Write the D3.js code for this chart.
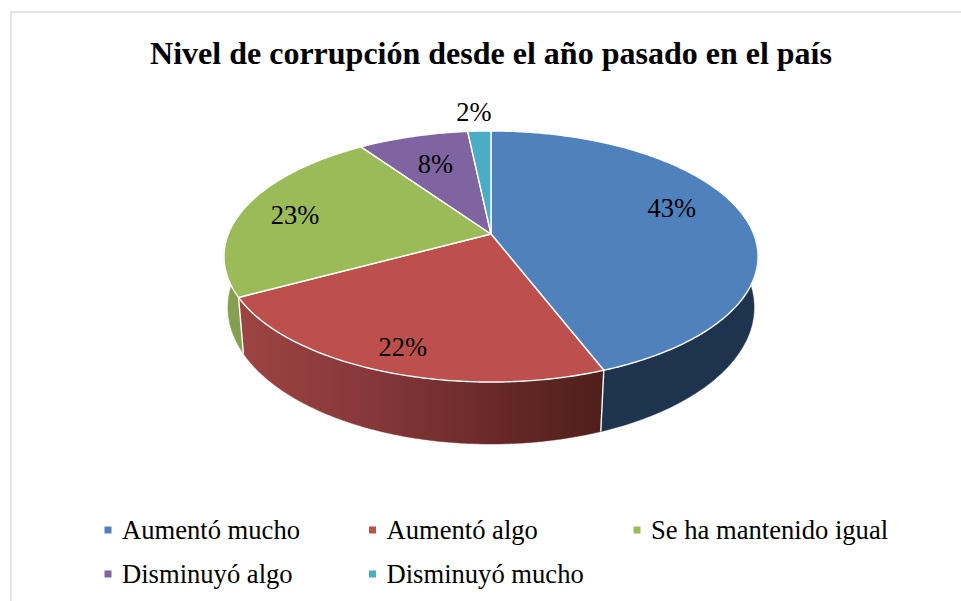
<!DOCTYPE html>
<html><head><meta charset="utf-8">
<script src="https://cdn.jsdelivr.net/npm/d3@7"></script>
<style>html,body{margin:0;padding:0;background:#fff;overflow:hidden}svg{display:block}text{font-family:"Liberation Serif",serif;fill:#000}</style>
</head><body>
<script>
const chartTitle = "Nivel de corrupción desde el año pasado en el país";
const categories = ["Aumentó mucho","Aumentó algo","Se ha mantenido igual","Disminuyó algo","Disminuyó mucho"];
const shares = [43.4,22.49,22.9,7.8,1.64];
const shareLabels = ["43%","22%","23%","8%","2%"];
const sliceColors = ["#4f81bd","#bd4f4c","#9bbb59","#8064a2","#4bacc6"];
const sideColors = ["#1e344e","url(#redSide)","#84a04e","#6d5589","#3f92a8"];

const W=961,H=601;
const svg=d3.select("body").append("svg").attr("width",W).attr("height",H);
const defs=svg.append("defs");
const grad=defs.append("linearGradient").attr("id","redSide").attr("gradientUnits","userSpaceOnUse")
  .attr("x1",240).attr("x2",602).attr("y1",0).attr("y2",0);
[[0,"#9c4441"],[0.35,"#87383a"],[0.7,"#692a28"],[1,"#4f1f1b"]].forEach(([o,c])=>grad.append("stop").attr("offset",o).attr("stop-color",c));

// frame
svg.append("rect").attr("x",11).attr("y",12).attr("width",W+20).attr("height",H+20)
  .attr("fill","#fff").attr("stroke","#dcdcdc").attr("stroke-width",1.6);

// title
svg.append("text").attr("x",491).attr("y",64).attr("text-anchor","middle")
  .attr("font-size",32).attr("font-weight","bold").text(chartTitle);

// perspective disc projections
const upper={cx:491,cy:234,A:262.7,B:121.5,k:0.1793};
const lower={cx:491,cy:284.7,A:259.4,B:132.8,k:0.1664};
const proj=(d,a,r=1)=>{const u=r*Math.sin(a),v=r*Math.cos(a),s=1+d.k*v;return [d.cx+d.A*u/s,d.cy-d.B*v/s];};
const arcPts=(d,a0,a1)=>{const n=Math.max(2,Math.ceil((a1-a0)/0.01));return d3.range(n+1).map(i=>proj(d,a0+(a1-a0)*i/n));};
const pathLine=d3.line();

const arcs=d3.pie().sort(null).value(d=>d)(shares);
const color=d3.scaleOrdinal(categories,sliceColors);
const sideColor=d3.scaleOrdinal(categories,sideColors);

// side walls: only the front part of the rim is visible
const g=svg.append("g");
const lo=Math.PI*0.5,hi=Math.PI*1.5;
arcs.forEach((a,i)=>{
  const s=Math.max(a.startAngle,lo),e=Math.min(a.endAngle,hi);
  if(e<=s)return;
  const pts=arcPts(upper,s,e).concat(arcPts(lower,s,e).reverse());
  g.append("path").attr("d",pathLine(pts)+"Z").attr("fill",sideColor(categories[i])).attr("stroke",sideColor(categories[i])).attr("stroke-width",0.5);
});
// seams between walls
arcs.forEach(a=>{
  if(a.startAngle>lo&&a.startAngle<hi)
    g.append("path").attr("d",pathLine([proj(upper,a.startAngle),proj(lower,a.startAngle)])).attr("stroke","#fff").attr("stroke-width",1.4).attr("fill","none");
});
// top faces
arcs.forEach((a,i)=>{
  const pts=[proj(upper,0,0)].concat(arcPts(upper,a.startAngle,a.endAngle));
  g.append("path").attr("d",pathLine(pts)+"Z").attr("fill",color(categories[i])).attr("stroke","#fff").attr("stroke-width",1.4).attr("stroke-linejoin","round");
});

// data labels (layout: radial fraction and angular shift within the disc)
const labelRadius=[0.75,0.85,0.785,0.68,1.23];
const labelTurn=[-0.119,-0.008,-0.025,0,-0.012];
arcs.forEach((a,i)=>{
  const [x,y]=proj(upper,(a.startAngle+a.endAngle)/2+labelTurn[i],labelRadius[i]);
  svg.append("text").attr("x",x).attr("y",y).attr("dy","0.34em").attr("text-anchor","middle")
    .attr("font-size",26.5).text(shareLabels[i]);
});

// legend
const colX=d3.scalePoint().domain([0,1,2]).range([104,633]);
const rowY=d3.scalePoint().domain([0,1]).range([530,574]);
const leg=svg.append("g");
categories.forEach((c,i)=>{
  const x=colX(i%3),y=rowY(Math.floor(i/3));
  leg.append("rect").attr("x",x+0.5).attr("y",y-3.5).attr("width",7).attr("height",7).attr("fill",color(c));
  leg.append("text").attr("x",x+18).attr("y",y).attr("dy","0.34em").attr("font-size",26.6).text(c);
});
</script>
</body></html>
